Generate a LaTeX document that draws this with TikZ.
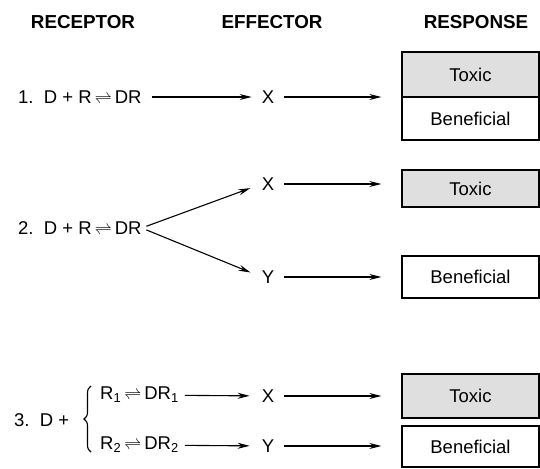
\documentclass[tikz,border=0pt]{standalone}
\usepackage{fontspec}
\setmainfont{Liberation Sans}
\usetikzlibrary{arrows.meta,decorations.pathreplacing}

\tikzset{
  head/.style={font=\fontsize{18.8}{22}\selectfont\bfseries, inner sep=0pt},
  lbl/.style={font=\fontsize{18.5}{22}\selectfont, inner sep=0pt},
  resp/.style={draw, line width=1.3pt, minimum width=137pt, minimum height=43pt,
    inner sep=0pt, font=\fontsize{18.5}{22}\selectfont},
  toxic/.style={resp, fill=gray!25},
  arr/.style={-{Stealth[length=12pt,width=6pt]}, line width=1.1pt,
    shorten <=10pt, shorten >=10pt},
}
\newcommand{\eqarrow}{\,\(\rightleftharpoons\)\,}

\begin{document}
\begin{tikzpicture}[x=1pt,y=-1pt]
		\useasboundingbox (0,0) rectangle (540,468);
		% column titles
		\node[head] (rec) at (83,22) {RECEPTOR};
		\node[head] (eff) at (272,22) {EFFECTOR};
		\node[head] (res) at (476,22) {RESPONSE};
		% case 1
		\node[lbl,anchor=west] (r1) at (18,97) {1.\ \ D + R\eqarrow DR};
		\node[lbl] (x1) at (268,97) {X};
		\node[toxic,minimum height=45pt] (t1) at (470.5,74.5) {Toxic};
		\node[resp] (b1) at (470.5,118.5) {Beneficial};
		\draw[arr] (r1) -- (x1);
		\draw[arr,shorten >=20pt] (x1) -- (x1 -| t1.west);
		% case 2
		\node[lbl,anchor=west] (r2) at (18,228) {2.\ \ D + R\eqarrow DR};
		\node[lbl] (x2) at (268,184) {X};
		\node[lbl] (y2) at (268,277) {Y};
		\node[toxic,minimum height=37pt] (t2) at (470.5,188.5) {Toxic};
		\node[resp,minimum height=42pt] (b2) at (470.5,277) {Beneficial};
		\draw[arr,shorten <=5pt,shorten >=12pt] (r2.east) -- (x2.west);
		\draw[arr,shorten <=5pt,shorten >=12pt] (r2.east) -- (y2.west);
		\draw[arr,shorten >=20pt] (x2) -- (x2 -| t2.west);
		\draw[arr,shorten >=20pt] (y2) -- (y2 -| b2.west);
		% case 3
		\node[lbl,anchor=west] (r3) at (14,420) {3.\ \ D +};
		\coordinate (bt) at (91,386);
		\coordinate (bb) at (91,452);
		\draw[decorate,decoration={brace,amplitude=7pt},line width=1.1pt] (bb) -- (bt);
		\node[lbl,anchor=west] (r31) at (100,395) {R\textsubscript{1}\eqarrow DR\textsubscript{1}};
		\node[lbl,anchor=west] (r32) at (100,445) {R\textsubscript{2}\eqarrow DR\textsubscript{2}};
		\node[lbl] (x3) at (268,396) {X};
		\node[lbl] (y3) at (268,446) {Y};
		\node[toxic,minimum height=44pt] (t3) at (470.5,396) {Toxic};
		\node[resp,minimum height=41pt] (b3) at (470.5,446.5) {Beneficial};
		\draw[arr,shorten <=6pt,shorten >=12pt] (r31) -- (x3);
		\draw[arr,shorten <=6pt,shorten >=12pt] (r32) -- (y3);
		\draw[arr,shorten >=20pt] (x3) -- (x3 -| t3.west);
		\draw[arr,shorten >=20pt] (y3) -- (y3 -| b3.west);
	\end{tikzpicture}
\end{document}
